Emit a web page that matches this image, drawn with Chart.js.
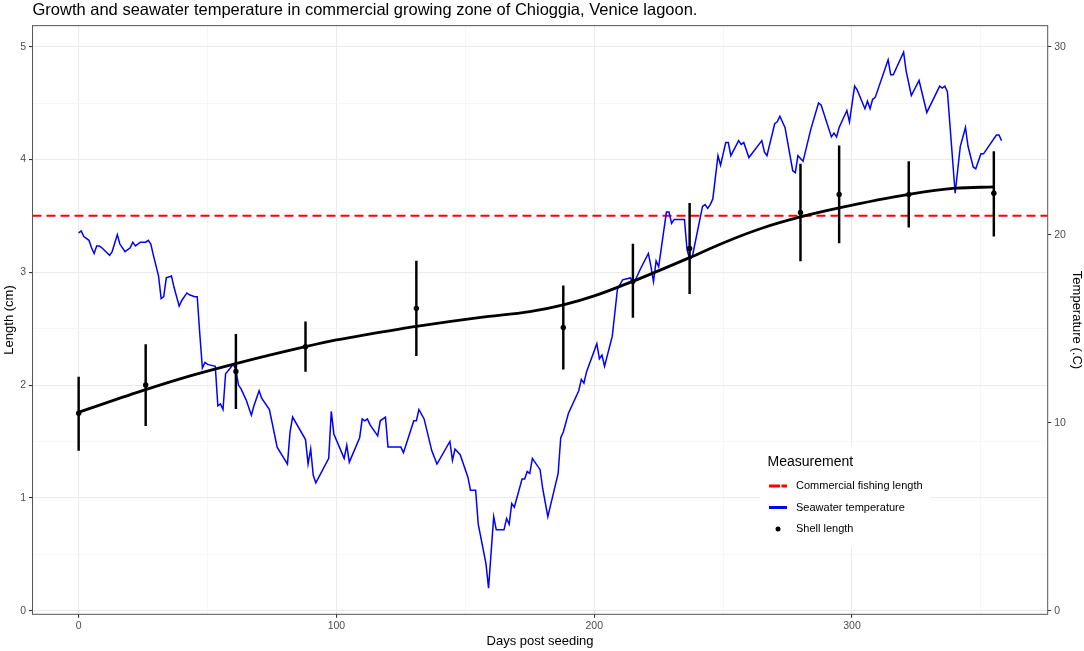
<!DOCTYPE html>
<html>
<head>
<meta charset="utf-8">
<script src="https://cdn.jsdelivr.net/npm/chart.js@4.4.0/dist/chart.umd.min.js"></script>
<style>
  html, body { margin: 0; padding: 0; background: #fff; }
  #wrap { width: 1084px; height: 651px; position: relative; }
</style>
</head>
<body>
<div id="wrap"><canvas id="growthChart"></canvas></div>
<script>
// Growth of shells vs seawater temperature — Chioggia, Venice lagoon

// shell length measurements (cm) with error bar limits
const shellDays = [0, 26, 61, 88, 131, 188, 215, 237, 280, 295, 322, 355];
const shellLength = [1.75, 2.00, 2.12, 2.34, 2.68, 2.51, 2.92, 3.21, 3.53, 3.69, 3.69, 3.70];
const shellLow = [1.42, 1.64, 1.79, 2.12, 2.26, 2.14, 2.60, 2.81, 3.10, 3.26, 3.40, 3.32];
const shellHigh = [2.07, 2.36, 2.45, 2.56, 3.10, 2.88, 3.25, 3.61, 3.96, 4.12, 3.98, 4.07];

// smoothed growth curve
const smoothDays = [0, 26, 40, 61, 88, 100, 110, 131, 156, 175, 188, 200, 215, 237, 250, 265, 280, 295, 322, 340, 355];
const smoothLength = [1.76, 1.96, 2.06, 2.19, 2.34, 2.40, 2.44, 2.52, 2.60, 2.65, 2.71, 2.79, 2.92, 3.13, 3.26, 3.39, 3.49, 3.57, 3.69, 3.745, 3.756];

// seawater temperature (°C)
const tempDays = [
  0, 1, 2, 4, 5, 6, 7, 8, 9, 12,
  13, 15, 16, 18, 20, 21, 22, 24, 26, 27,
  28, 29, 31, 32, 33, 34, 36, 37, 39, 40,
  42, 43, 45, 46, 47, 48, 49, 50, 53, 54,
  55, 56, 57, 60, 61, 62, 63, 65, 67, 68,
  70, 71, 74, 77, 81, 82, 83, 88, 89, 90,
  91, 92, 97, 98, 99, 103, 104, 105, 109, 110,
  111, 112, 113, 116, 117, 119, 120, 123, 125, 126,
  130, 131, 132, 134, 137, 139, 144, 145, 146, 148,
  151, 152, 154, 155, 158, 159, 161, 162, 165, 166,
  167, 168, 169, 172, 173, 174, 175, 176, 179, 180,
  182, 186, 187, 188, 190, 194, 195, 196, 197, 201,
  202, 203, 204, 207, 209, 211, 214, 215, 216, 218,
  221, 222, 223, 224, 225, 228, 229, 230, 231, 234,
  235, 236, 237, 238, 242, 243, 244, 245, 246, 248,
  249, 251, 252, 253, 256, 257, 258, 260, 265, 266,
  267, 270, 271, 272, 274, 277, 278, 279, 281, 284,
  287, 288, 292, 293, 294, 295, 298, 299, 301, 302,
  305, 306, 307, 308, 309, 314, 315, 316, 320, 321,
  323, 326, 329, 334, 335, 336, 337, 340, 342, 344,
  345, 347, 348, 350, 351, 356, 357, 358
];
const tempValues = [
  20.1, 20.2, 19.9, 19.7, 19.3, 19.0, 19.4, 19.4, 19.3, 18.9,
  19.1, 20.0, 19.5, 19.1, 19.3, 19.6, 19.4, 19.6, 19.6, 19.7,
  19.5, 18.9, 17.8, 16.6, 16.7, 17.7, 17.8, 17.2, 16.2, 16.5,
  16.9, 16.8, 16.7, 16.7, 14.7, 12.9, 13.2, 13.1, 13.0, 10.9,
  11.0, 10.7, 12.6, 13.1, 12.8, 12.0, 11.8, 11.2, 10.4, 10.9,
  11.7, 11.3, 10.7, 8.7, 7.8, 9.5, 10.3, 9.1, 7.8, 8.6,
  7.2, 6.8, 8.1, 10.6, 9.4, 8.1, 8.8, 7.9, 9.2, 10.2,
  10.1, 10.2, 9.9, 9.3, 10.1, 10.3, 8.7, 8.7, 8.7, 8.4,
  10.1, 10.1, 10.7, 10.2, 8.5, 7.8, 9.0, 8.0, 8.6, 8.3,
  7.1, 6.4, 6.4, 4.6, 2.5, 1.2, 5.0, 4.3, 4.3, 4.9,
  4.6, 5.7, 5.5, 7.0, 7.0, 7.4, 7.3, 8.1, 7.5, 6.5,
  5.0, 7.3, 9.2, 9.5, 10.5, 11.7, 12.3, 12.1, 12.7, 14.2,
  13.4, 13.6, 13.0, 14.6, 17.1, 17.6, 17.7, 17.5, 17.6, 18.2,
  19.0, 18.3, 17.5, 18.6, 18.3, 21.2, 21.2, 20.6, 20.8, 20.8,
  20.8, 19.2, 18.7, 18.8, 21.5, 21.6, 21.4, 21.6, 21.9, 24.2,
  23.7, 24.9, 24.9, 24.2, 25.0, 24.8, 24.9, 24.1, 25.0, 24.4,
  24.2, 25.9, 26.0, 26.3, 25.7, 23.4, 23.3, 24.2, 23.9, 25.6,
  27.0, 26.9, 25.2, 25.4, 25.2, 25.7, 26.6, 26.0, 27.9, 27.7,
  26.7, 27.1, 26.7, 27.2, 27.3, 29.3, 28.5, 28.5, 29.7, 28.7,
  27.4, 28.2, 26.5, 27.9, 27.8, 27.9, 27.6, 22.2, 24.7, 25.7,
  24.7, 23.6, 23.5, 24.3, 24.3, 25.3, 25.3, 25.0
];

const fishingLength = 3.5;

// axes
const xGridDays = [0, 50, 100, 150, 200, 250, 300, 350];
const xTickLabels = [0, 100, 200, 300];
const yGridLength = [0, 0.5, 1, 1.5, 2, 2.5, 3, 3.5, 4, 4.5, 5];
const yTickLabels = [0, 1, 2, 3, 4, 5];
const tempTicks = [0, 10, 20, 30];
const tempPerCm = 6;
const xMin = -17.9, xMax = 375.9;
const yMin = -0.032, yMax = 5.186;

const FONT = '"Liberation Sans", Arial, Helvetica, sans-serif';
Chart.defaults.font.family = FONT;

function isMajor(ctx, majors) {
  return ctx.tick && majors.includes(ctx.tick.value);
}

const panelBorder = {
  id: 'panelBorder',
  afterDatasetsDraw(chart) {
    const a = chart.chartArea;
    const ctx = chart.ctx;
    ctx.save();
    ctx.strokeStyle = '#555';
    ctx.lineWidth = 1;
    ctx.strokeRect(a.left, a.top, a.right - a.left, a.bottom - a.top);
    ctx.restore();
  }
};

const measureLegend = {
  id: 'measureLegend',
  beforeDatasetsDraw(chart) {
    const ctx = chart.ctx;
    const left = 760, top = 446;
    ctx.save();
    ctx.fillStyle = '#fff';
    ctx.fillRect(left, top, 170, 101);
    ctx.fillStyle = '#000';
    ctx.textBaseline = 'middle';
    ctx.font = '14px ' + FONT;
    ctx.fillText('Measurement', 767.5, 462);
    ctx.font = '11px ' + FONT;
    const ds = chart.data.datasets;
    const rows = [
      { ds: ds[0], y: 486 },
      { ds: ds[1], y: 507.5 },
      { ds: ds[4], y: 529 }
    ];
    rows.forEach(function(r) {
      if (r.ds.showLine === false) {
        ctx.beginPath();
        ctx.arc(778, r.y, 2.5, 0, Math.PI * 2);
        ctx.fillStyle = r.ds.pointBackgroundColor;
        ctx.fill();
      } else {
        ctx.beginPath();
        ctx.strokeStyle = r.ds.borderColor;
        ctx.lineWidth = 3;
        ctx.setLineDash(r.ds.borderDash ? [11, 1.5] : []);
        ctx.moveTo(769, r.y);
        ctx.lineTo(787, r.y);
        ctx.stroke();
        ctx.setLineDash([]);
      }
      ctx.fillStyle = '#000';
      ctx.fillText(r.ds.label, 796, r.y);
    });
    ctx.restore();
  }
};

new Chart(document.getElementById('growthChart'), {
  type: 'line',
  data: {
    datasets: [
      {
        label: 'Commercial fishing length',
        data: [{ x: xMin, y: fishingLength }, { x: xMax, y: fishingLength }],
        borderColor: '#ff0000', borderWidth: 2, borderDash: [9, 5],
        pointRadius: 0, yAxisID: 'y', order: 5
      },
      {
        label: 'Seawater temperature',
        data: tempDays.map((d, i) => ({ x: d, y: tempValues[i] })),
        borderColor: '#0000ff', borderWidth: 1.5, pointRadius: 0,
        tension: 0, yAxisID: 'y2', order: 4
      },
      {
        label: 'Growth curve',
        data: smoothDays.map((d, i) => ({ x: d, y: smoothLength[i] })),
        borderColor: '#000', borderWidth: 2.8, pointRadius: 0,
        cubicInterpolationMode: 'monotone', yAxisID: 'y', order: 3
      },
      {
        type: 'bar',
        label: 'Shell length range',
        data: shellDays.map((d, i) => ({ x: d, y: [shellLow[i], shellHigh[i]] })),
        backgroundColor: '#000', barThickness: 1.8, borderWidth: 0,
        yAxisID: 'y', order: 2
      },
      {
        label: 'Shell length',
        data: shellDays.map((d, i) => ({ x: d, y: shellLength[i] })),
        showLine: false, pointRadius: 2.7, pointBackgroundColor: '#000',
        pointBorderColor: '#000', pointBorderWidth: 0, yAxisID: 'y', order: 1
      }
    ]
  },
  options: {
    responsive: true,
    maintainAspectRatio: false,
    animation: false,
    events: [],
    layout: { padding: 0 },
    plugins: {
      legend: { display: false },
      tooltip: { enabled: false },
      title: {
        display: true,
        text: 'Growth and seawater temperature in commercial growing zone of Chioggia, Venice lagoon.',
        align: 'start', fullSize: false, color: '#000',
        font: { size: 16.5, weight: 'normal', lineHeight: 1.1 },
        padding: { top: 1.5, bottom: 6 }
      }
    },
    scales: {
      x: {
        type: 'linear', min: xMin, max: xMax, offset: false,
        afterBuildTicks: s => { s.ticks = xGridDays.map(v => ({ value: v })); },
        afterFit: s => { s.height = 36.7; },
        ticks: {
          autoSkip: false, maxRotation: 0, color: '#4d4d4d', font: { size: 10.5 }, padding: 2,
          callback: v => xTickLabels.includes(v) ? String(v) : ''
        },
        grid: {
          offset: false,
          color: c => isMajor(c, xTickLabels) ? '#ebebeb' : '#f3f3f3',
          lineWidth: c => isMajor(c, xTickLabels) ? 1.1 : 0.7,
          tickColor: c => isMajor(c, xTickLabels) ? '#333' : 'rgba(0,0,0,0)',
          tickLength: 3.5
        },
        border: { display: false },
        title: { display: true, text: 'Days post seeding', color: '#000', font: { size: 13 }, padding: { top: 0, bottom: 2 } }
      },
      y: {
        type: 'linear', position: 'left', min: yMin, max: yMax,
        afterBuildTicks: s => { s.ticks = yGridLength.map(v => ({ value: v })); },
        afterFit: s => { s.width = 32.5; },
        ticks: {
          autoSkip: false, color: '#4d4d4d', font: { size: 10.5 }, padding: 3,
          callback: v => yTickLabels.includes(v) ? String(v) : ''
        },
        grid: {
          color: c => isMajor(c, yTickLabels) ? '#ebebeb' : '#f3f3f3',
          lineWidth: c => isMajor(c, yTickLabels) ? 1.1 : 0.7,
          tickColor: c => isMajor(c, yTickLabels) ? '#333' : 'rgba(0,0,0,0)',
          tickLength: 3.5
        },
        border: { display: false },
        title: { display: true, text: 'Length (cm)', color: '#000', font: { size: 13 }, padding: { top: 2, bottom: 0 } }
      },
      y2: {
        type: 'linear', position: 'right', min: yMin * tempPerCm, max: yMax * tempPerCm,
        afterBuildTicks: s => { s.ticks = tempTicks.map(v => ({ value: v })); },
        afterFit: s => { s.width = 36.3; },
        ticks: { autoSkip: false, color: '#4d4d4d', font: { size: 10.5 }, padding: 3 },
        grid: { drawOnChartArea: false, tickColor: '#333', tickLength: 3.5 },
        border: { display: false },
        title: { display: true, text: 'Temperature (.C)', color: '#000', font: { size: 13 }, padding: { top: 0, bottom: 3 } }
      }
    }
  },
  plugins: [measureLegend, panelBorder]
});
</script>
</body>
</html>
